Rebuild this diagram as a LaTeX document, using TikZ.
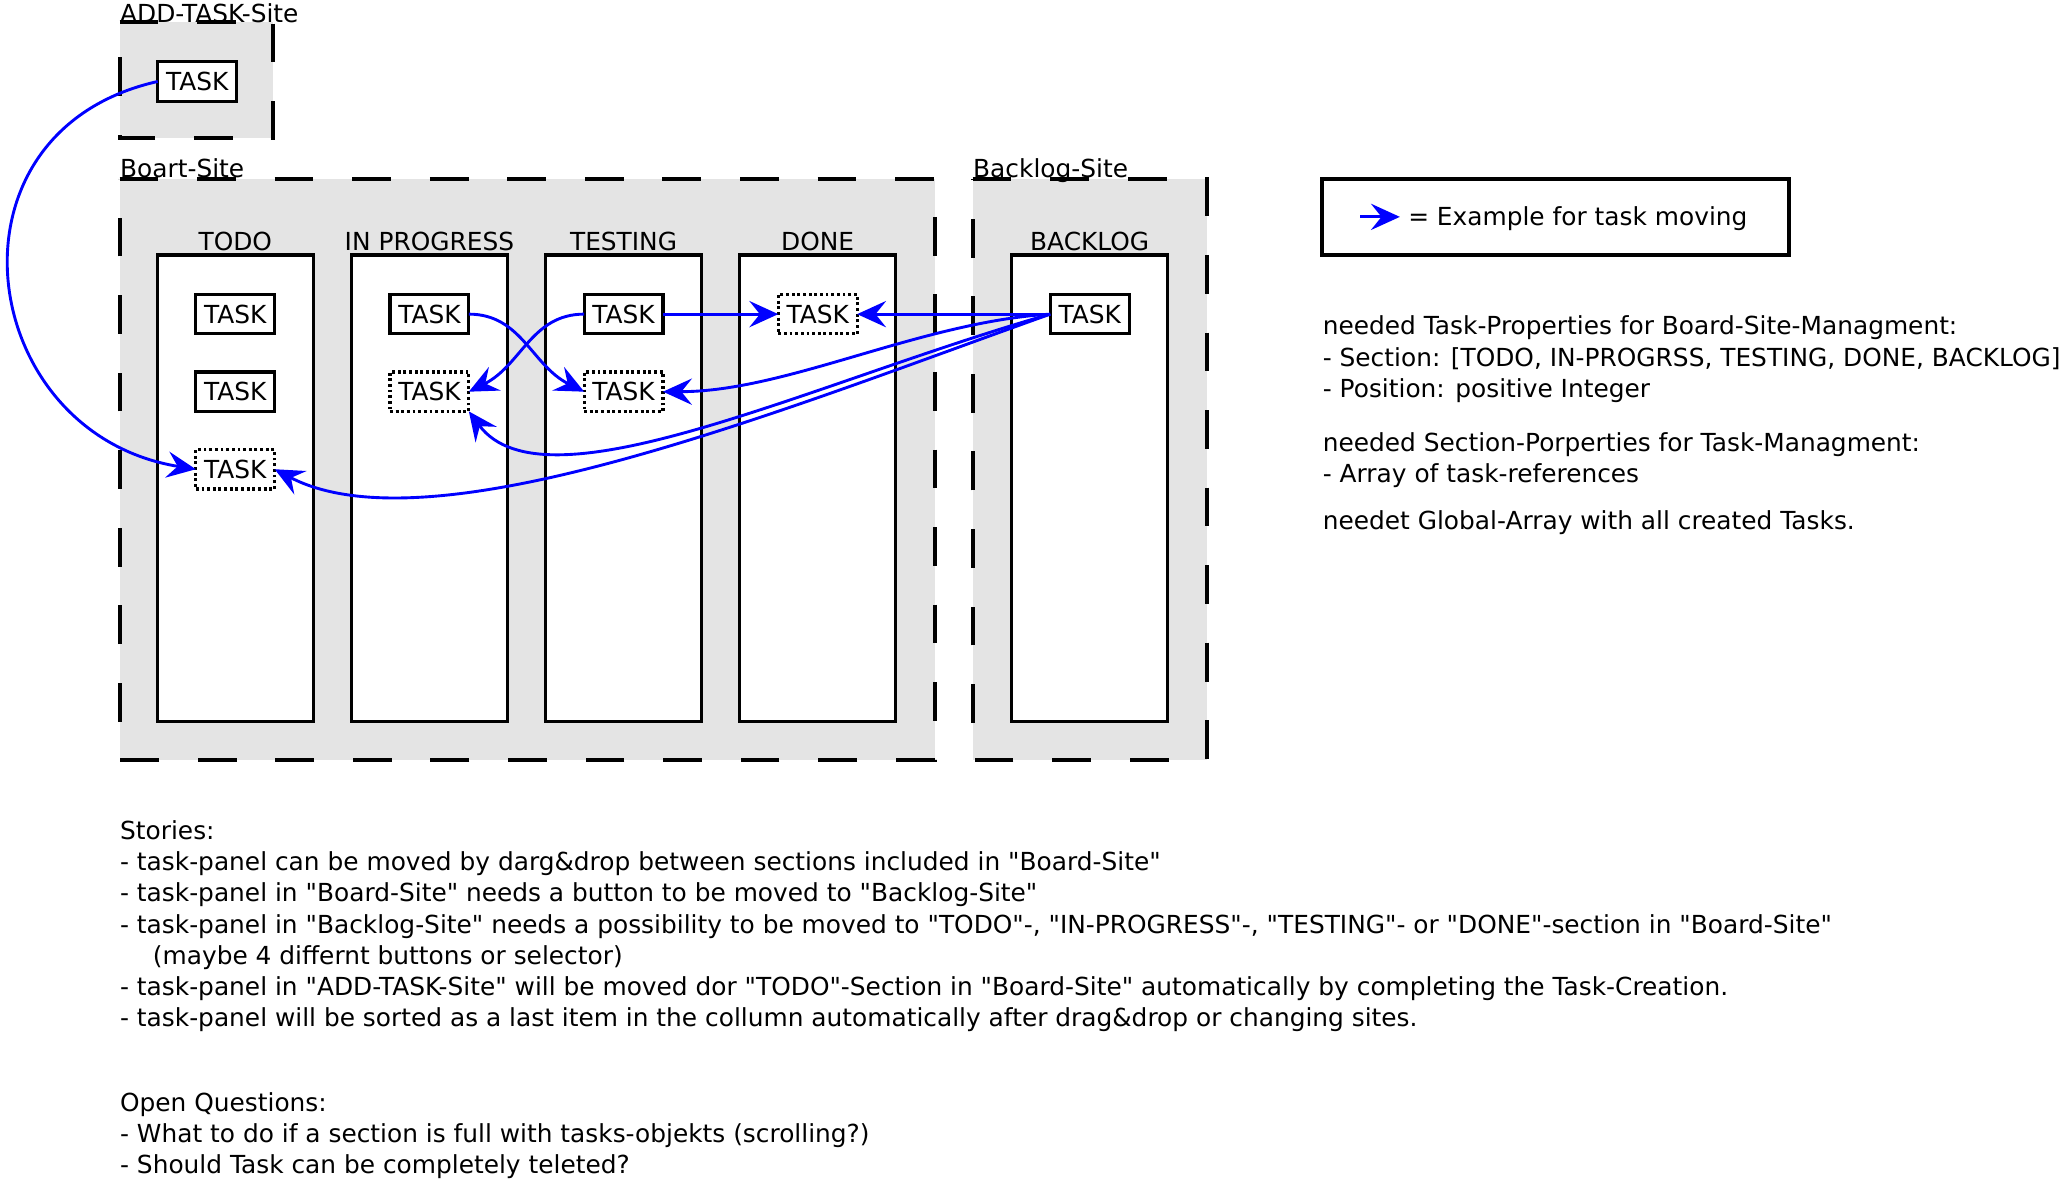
\documentclass[tikz,border=0pt]{standalone}
\usepackage{fontspec}
\setmainfont{DejaVu Sans}[Ligatures=TeXOff]
\usetikzlibrary{positioning, arrows.meta}
\definecolor{sitegray}{HTML}{E4E4E4}
\definecolor{moveblue}{RGB}{0,0,255}

\begin{document}
\begin{tikzpicture}[x=0.5pt, y=-0.5pt, font=\fontsize{9.45}{11.85}\selectfont]
\tikzstyle{site}=[fill=sitegray]
\tikzstyle{siteborder}=[line width=1.5pt, dash pattern=on 14.75pt off 14.75pt]
\tikzstyle{sitename}=[anchor=base west, inner sep=0pt]
\tikzstyle{column}=[rectangle, draw=black, fill=white, line width=1.2pt, minimum width=59.25pt, minimum height=177.5pt, outer sep=0pt, node distance=14.6pt]
\tikzstyle{coltitle}=[inner sep=0pt, node distance=1.2pt]
\tikzstyle{task}=[rectangle, draw=black, fill=white, line width=1.2pt, minimum width=30pt, minimum height=15pt, inner sep=0pt, outer sep=0pt, node distance=14.5pt]
\tikzstyle{ghost}=[task, dash pattern=on 1.1pt off 1.05pt]
\tikzstyle{move}=[-{Stealth[length=11pt, width=10pt, inset=4pt]}, draw=moveblue, line width=1.1pt]
\tikzstyle{notes}=[anchor=north west, align=left, inner sep=0pt]

\useasboundingbox (0,0) rectangle (1568,897);

% 1. Sites
%%%%%%%%%%
\fill[site] (91,17) rectangle (208,105);
\draw[siteborder] (91,17) -- (208,17) -- (208,105) -- (91,105) -- cycle;
\fill[site] (91,136) rectangle (711,578);
\draw[siteborder] (91,136) -- (711,136) -- (711,578) -- (91,578) -- cycle;
\fill[site] (740,136) rectangle (918,578);
\draw[siteborder] (740,136) -- (918,136) -- (918,578) -- (740,578) -- cycle;
\node[sitename] (addname) at (91,17) {ADD-TASK-Site};
\node[sitename] (boardname) at (91,135) {Boart-Site};
\node[sitename] (backlogname) at (740,135) {Backlog-Site};

% 2. Nodes
%%%%%%%%%%
\node[column] (todo) at (179,371.5) {};
\node[column, right=of todo] (inprog) {};
\node[column, right=of inprog] (testing) {};
\node[column, right=of testing] (done) {};
\node[column] (backlog) at (829,371.5) {};
\node[coltitle, above=of todo] {TODO};
\node[coltitle, above=of inprog] {IN PROGRESS};
\node[coltitle, above=of testing] {TESTING};
\node[coltitle, above=of done] {DONE};
\node[coltitle, above=of backlog] {BACKLOG};

\node[task] (newtask) at (150,62) {TASK};
\node[task, below=15pt of todo.north] (todo1) {TASK};
\node[task, below=of todo1] (todo2) {TASK};
\node[ghost, below=of todo2] (todo3) {TASK};
\node[task, below=15pt of inprog.north] (inprog1) {TASK};
\node[ghost, below=of inprog1] (inprog2) {TASK};
\node[task, below=15pt of testing.north] (testing1) {TASK};
\node[ghost, below=of testing1] (testing2) {TASK};
\node[ghost, below=15pt of done.north] (done1) {TASK};
\node[task, below=15pt of backlog.north] (backlog1) {TASK};

\node[rectangle, draw=black, line width=1.5pt, minimum width=177.5pt, minimum height=29pt] (legend) at (1183.5,165) {};
\coordinate (lgtail) at (1035,165);
\coordinate (lghead) at (1065,165);
\node[sitename] (lgtext) at (1071,171.5) {= Example for task moving};

\node[notes] (taskprops) at (1006,240) {needed Task-Properties for Board-Site-Managment:\\
- Section: [TODO, IN-PROGRSS, TESTING, DONE, BACKLOG]\\
- Position: positive Integer};
\node[notes] (secprops) at (1006,329) {needed Section-Porperties for Task-Managment:\\
- Array of task-references};
\node[notes] (globalarr) at (1006,388) {needet Global-Array with all created Tasks.};

\node[notes] (stories) at (91,624) {Stories:\\
- task-panel can be moved by darg\&drop between sections included in "Board-Site"\\
- task-panel in "Board-Site" needs a button to be moved to "Backlog-Site"\\
- task-panel in "Backlog-Site" needs a possibility to be moved to "TODO"-, "IN-PROGRESS"-, "TESTING"- or "DONE"-section in "Board-Site"\\
\hspace*{12.5pt}(maybe 4 differnt buttons or selector)\\
- task-panel in "ADD-TASK-Site" will be moved dor "TODO"-Section in "Board-Site" automatically by completing the Task-Creation.\\
- task-panel will be sorted as a last item in the collumn automatically after drag\&drop or changing sites.};
\node[notes] (questions) at (91,831) {Open Questions:\\
- What to do if a section is full with tasks-objekts (scrolling?)\\
- Should Task can be completely teleted?};

% 3. Arrows
%%%%%%%%%%%
\draw[move] (newtask.west) .. controls +(-170,38) and +(-168,-27) .. (todo3.west);
\draw[move] (inprog1.east) .. controls +(40,0) and +(-40,-20) .. (testing2.west);
\draw[move] (testing1.west) .. controls +(-40,0) and +(40,-20) .. (inprog2.east);
\path (testing1) edge [move] (done1)
      (backlog1) edge [move] (done1)
      (lgtail)   edge [move] (lghead);
\draw[move] (backlog1.west) .. controls +(-99,6) and +(94,0) .. (testing2.east);
\draw[move] (backlog1.west) .. controls +(-179,51) and +(58,78) .. (inprog2.south east);
\draw[move] (backlog1.west) .. controls +(-199,71) and +(120,63) .. (todo3.east);

\end{tikzpicture}
\end{document}
